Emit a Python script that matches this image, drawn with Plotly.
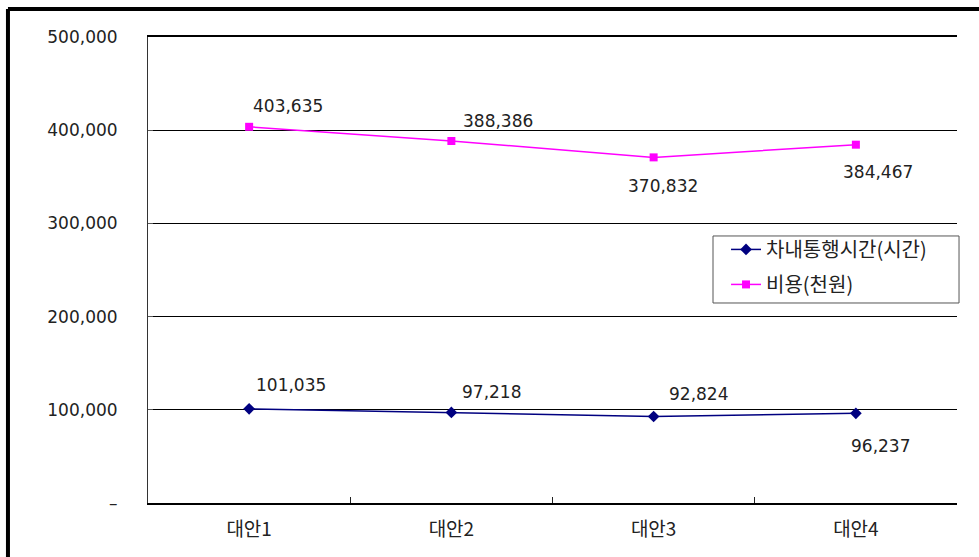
import plotly.graph_objects as go

categories = ["대안1", "대안2", "대안3", "대안4"]
travel_time = [101035, 97218, 92824, 96237]
cost = [403635, 388386, 370832, 384467]
series_names = ["차내통행시간(시간)", "비용(천원)"]
y_tick_vals = [0, 100000, 200000, 300000, 400000, 500000]
y_tick_text = ["–", "100,000", "200,000", "300,000", "400,000", "500,000"]

# label offsets (pixels) to mimic manual label placement
time_shifts = [(42, 24), (40, 20), (45, 22), (25, -33)]
cost_shifts = [(39, 21), (47, 20), (9, -29), (22, -27)]

FONT = "DejaVu Sans, Noto Sans CJK KR, sans-serif"
KFONT = "Noto Sans CJK KR, DejaVu Sans, sans-serif"

fig = go.Figure()
fig.add_trace(go.Scatter(
    x=categories, y=travel_time, name=series_names[0], mode="lines+markers",
    line=dict(color="#000080", width=1.5),
    marker=dict(symbol="diamond", size=9, color="#000080"),
    legendgroup="a",
))
fig.add_trace(go.Scatter(
    x=categories, y=cost, name=series_names[1], mode="lines+markers",
    line=dict(color="#FF00FF", width=1.5),
    marker=dict(symbol="square", size=8, color="#FF00FF"),
    legendgroup="b",
))

annotations = []
for vals, shifts in ((travel_time, time_shifts), (cost, cost_shifts)):
    for c, v, (dx, dy) in zip(categories, vals, shifts):
        annotations.append(dict(
            x=c, y=v, xref="x", yref="y", text=f"{v:,}", showarrow=False,
            xshift=dx, yshift=dy, font=dict(family=FONT, size=17, color="#222"),
        ))

fig.update_layout(
    width=979, height=557,
    margin=dict(l=148, r=22, t=37, b=54),
    paper_bgcolor="white", plot_bgcolor="white",
    showlegend=True,
    legend=dict(
        x=0.7145, y=0.586, xanchor="left", yanchor="top",
        borderwidth=0, bgcolor="rgba(0,0,0,0)",
        font=dict(family=KFONT, size=20, color="#222"),
        traceorder="grouped", tracegroupgap=6,
        itemwidth=30,
    ),
    annotations=annotations,
    shapes=[
        # legend frame
        dict(type="rect", xref="paper", yref="paper", x0=0.6984, x1=1.0025,
             y0=0.4292, y1=0.5730, fillcolor="white",
             line=dict(color="#555", width=1), layer="above"),
        # outer chart frame
        dict(type="line", xref="paper", yref="paper", x0=-0.1731, x1=1.2,
             y0=1.0601, y1=1.0601, line=dict(color="black", width=4)),
        dict(type="line", xref="paper", yref="paper", x0=-0.1731, x1=-0.1731,
             y0=-0.3, y1=1.0601, line=dict(color="black", width=4)),
    ],
)

fig.update_yaxes(
    range=[0, 500000], tickvals=y_tick_vals, ticktext=y_tick_text,
    showgrid=True, gridcolor="black", gridwidth=1,
    showline=True, linecolor="#333", linewidth=1,
    ticks="inside", ticklen=5, tickcolor="#555",
    ticklabelstandoff=26, zeroline=False,
    tickfont=dict(family=FONT, size=17, color="#222"),
)
fig.update_xaxes(
    range=[-0.5, 3.5], showgrid=False,
    showline=True, linecolor="black", linewidth=1.5, mirror=True,
    ticks="inside", tickson="boundaries", ticklen=6, tickcolor="#222",
    ticklabelstandoff=8,
    tickfont=dict(family=KFONT, size=19, color="#222"),
)

fig.write_html("out.html")
